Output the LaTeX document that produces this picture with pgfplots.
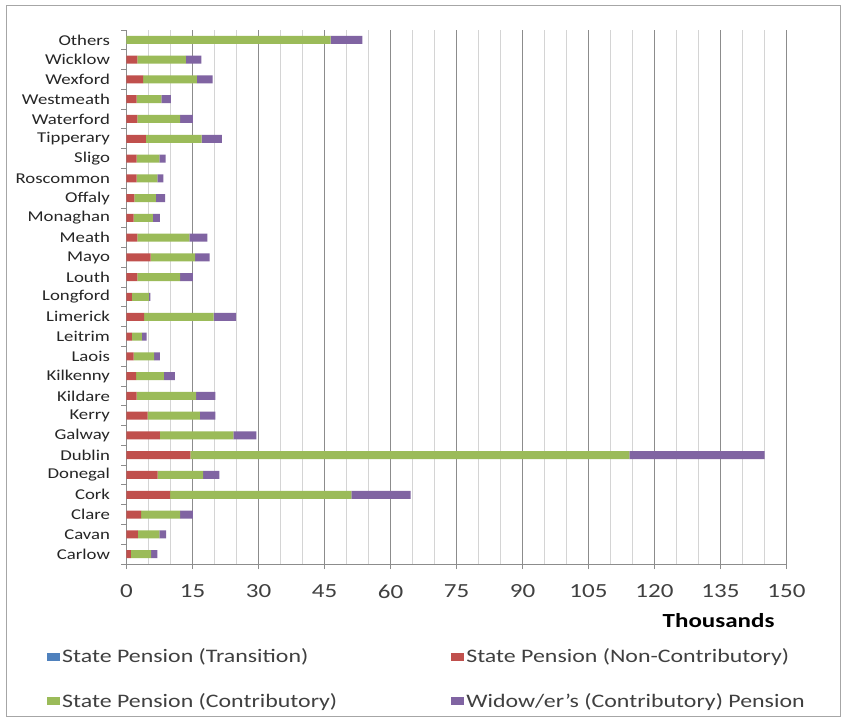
\documentclass[border=0pt]{standalone}
\usepackage{pgfplots}
\pgfplotsset{compat=1.18}
\usepackage{pgfplotstable}
\usepackage{fontspec}
\setmainfont{Carlito}[FakeStretch=1.25]
\definecolor{cT}{HTML}{4F81BD}
\definecolor{cN}{HTML}{C0504D}
\definecolor{cC}{HTML}{9BBB59}
\definecolor{cW}{HTML}{8064A2}
\definecolor{txt}{HTML}{404040}
\pgfplotstableread{
y T N C W
0 0 1.0 4.6 1.4
1 0 2.6 4.9 1.5
2 0 3.3 8.9 2.9
3 0 9.9 41.2 13.5
4 0 7.1 10.3 3.7
5 0 14.5 99.8 30.7
6 0 7.6 16.7 5.2
7 0 4.8 11.9 3.5
8 0 2.3 13.5 4.4
9 0 2.2 6.3 2.5
10 0 1.6 4.7 1.3
11 0 1.2 2.3 1.1
12 0 4.0 15.8 5.1
13 0 1.2 3.9 0.3
14 0 2.5 9.7 2.9
15 0 5.5 10.1 3.3
16 0 2.5 11.8 4.1
17 0 1.6 4.4 1.6
18 0 1.8 4.9 2.1
19 0 2.3 4.7 1.4
20 0 2.3 5.2 1.4
21 0 4.4 12.7 4.6
22 0 2.5 9.7 2.9
23 0 2.3 5.6 2.2
24 0 3.8 12.2 3.6
25 0 2.5 11.0 3.5
26 0 0 46.4 7.2
}\data
\begin{document}
\begin{tikzpicture}[x=1pt,y=1pt]
\useasboundingbox (0,0) rectangle (846,723);
\fill[white] (0,0) rectangle (846,723);
\draw[black!35, line width=1pt] (6,7) rectangle (840,717);
\begin{axis}[
  at={(126.5pt,159pt)}, anchor=south west, scale only axis,
  width=660pt, height=534pt,
  xbar stacked, bar width=8pt,
  xmin=0, xmax=150, ymin=-0.5, ymax=26.5,
  xtick={0,15,...,150}, minor x tick num=2,
  ytick={-0.5,0.5,...,26.5},
  yticklabels={Carlow,Cavan,Clare,Cork,Donegal,Dublin,Galway,Kerry,Kildare,Kilkenny,Laois,Leitrim,Limerick,Longford,Louth,Mayo,Meath,Monaghan,Offaly,Roscommon,Sligo,Tipperary,Waterford,Westmeath,Wexford,Wicklow,Others,{}},
  y tick label style={font=\fontsize{15}{17}\selectfont, text=black!85, yshift=9.89pt, xshift=-8pt, anchor=east},
  x tick label style={font=\fontsize{20}{22}\selectfont, text=txt, yshift=-12pt},
  /pgf/number format/assume math mode=true,
  xmajorgrids, xminorgrids,
  major grid style={color=black!45, line width=0.8pt},
  minor grid style={color=black!17, line width=0.8pt},
  axis x line*=bottom, axis y line*=left,
  axis line style={black!45, line width=0.8pt, -},
  tick style={black!45, line width=0.8pt},
  tick align=outside,
  major tick length=5pt, minor tick length=0pt,
  legend columns=2,
  legend cell align=left,
  legend style={at={(-0.1205,-0.151)}, anchor=north west, draw=none, fill=none,
    inner xsep=0pt,
    font=\fontsize{19.1}{22}\selectfont, text=txt, row sep=25pt,
    /tikz/every even column/.append style={column sep=112pt},
    nodes={inner xsep=2pt}},
  legend image code/.code={\fill[#1] (0pt,-4pt) rectangle (13pt,4pt);},
]
\addplot[fill=cT, draw=none] table[x=T, y=y] {\data};
\addplot[fill=cN, draw=none] table[x=N, y=y] {\data};
\addplot[fill=cC, draw=none] table[x=C, y=y] {\data};
\addplot[fill=cW, draw=none] table[x=W, y=y] {\data};
\legend{State Pension (Transition), State Pension (Non-Contributory), State Pension (Contributory), Widow/er's (Contributory) Pension}
\end{axis}
\node[anchor=east, font=\bfseries\fontsize{20}{22}\selectfont, text=black] at (778,102) {Thousands};
\end{tikzpicture}
\end{document}
